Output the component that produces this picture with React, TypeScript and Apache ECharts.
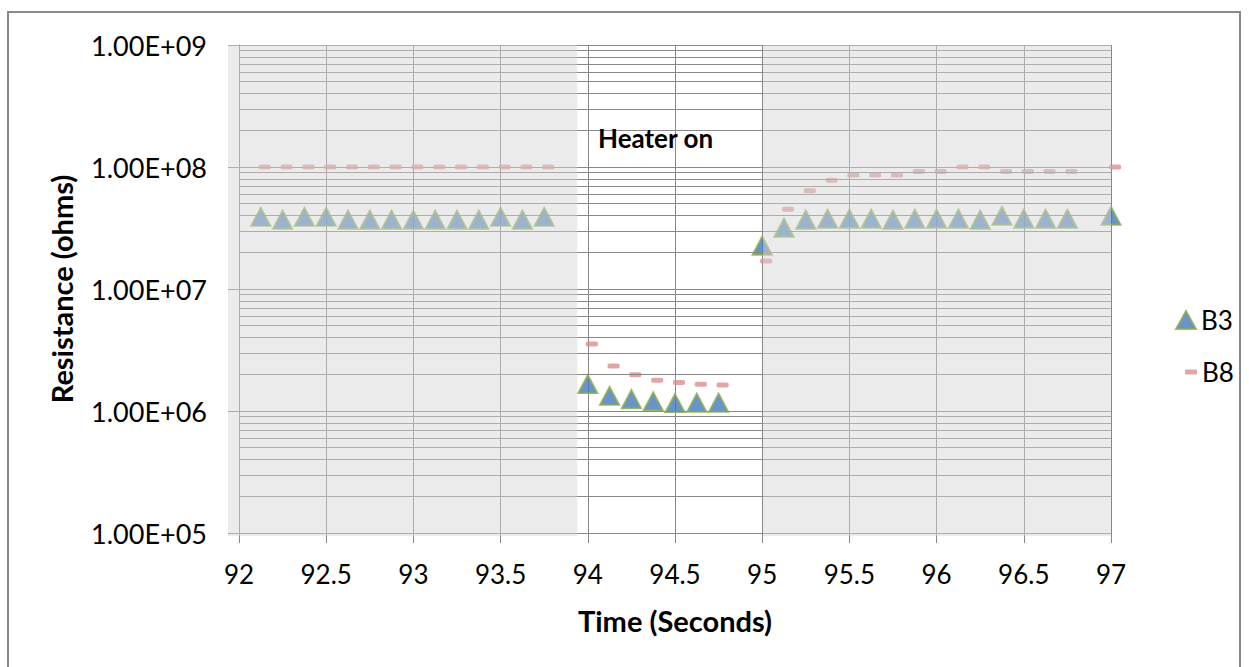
import React, { useEffect, useRef } from "react";
import * as echarts from "echarts";

// ---------- data ----------
const times = [
  92.125, 92.25, 92.375, 92.5, 92.625, 92.75, 92.875, 93, 93.125, 93.25, 93.375, 93.5, 93.625, 93.75,
  94, 94.125, 94.25, 94.375, 94.5, 94.625, 94.75,
  95, 95.125, 95.25, 95.375, 95.5, 95.625, 95.75, 95.875, 96, 96.125, 96.25, 96.375, 96.5, 96.625, 96.75, 97,
];
const b3 = [
  3.9e7, 3.7e7, 3.9e7, 3.9e7, 3.7e7, 3.7e7, 3.7e7, 3.7e7, 3.7e7, 3.7e7, 3.7e7, 3.9e7, 3.7e7, 3.9e7,
  1.66e6, 1.33e6, 1.25e6, 1.2e6, 1.16e6, 1.17e6, 1.17e6,
  2.26e7, 3.18e7, 3.7e7, 3.77e7, 3.77e7, 3.77e7, 3.7e7, 3.77e7, 3.77e7, 3.77e7, 3.7e7, 3.98e7, 3.77e7, 3.77e7, 3.77e7, 3.98e7,
];
const b8 = [
  1e8, 1e8, 1e8, 1e8, 1e8, 1e8, 1e8, 1e8, 1e8, 1e8, 1e8, 1e8, 1e8, 1e8,
  3.54e6, 2.34e6, 1.98e6, 1.79e6, 1.71e6, 1.66e6, 1.63e6,
  1.7e7, 4.5e7, 6.4e7, 7.8e7, 8.6e7, 8.6e7, 8.6e7, 9.2e7, 9.2e7, 1.0e8, 1.0e8, 9.2e7, 9.2e7, 9.2e7, 9.2e7, 1.0e8,
];
const seriesNames = ["B3", "B8"];
const xMin = 92;
const xMax = 97;
const xInterval = 0.5;
const yMin = 1e5;
const yMax = 1e9;
const decades = [1e5, 1e6, 1e7, 1e8];
const minorMultipliers = [2, 3, 4, 5, 6, 7, 8, 9];
const shadeLeft = [91.937, 93.94];
const shadeRight = [95.005, 97];
const annotationText = "Heater on";
const xName = "Time (Seconds)";
const yName = "Resistance (ohms)";

const FONT = "Lato, 'Open Sans', sans-serif";
const GRID_COLOR = "#888888";

function fmtExp(v: number): string {
  const e = Math.round(Math.log10(v));
  const m = v / Math.pow(10, e);
  return m.toFixed(2) + "E+" + String(e).padStart(2, "0");
}

export default function App() {
  const ref = useRef<HTMLDivElement>(null);

  useEffect(() => {
    document.body.style.margin = "0";
    if (!ref.current) return;
    const chart = echarts.init(ref.current, null, { renderer: "svg" });

    const minorLines: any[] = [];
    decades.forEach((d) => minorMultipliers.forEach((m) => minorLines.push({ yAxis: m * d })));

    const option: any = {
      animation: false,
      backgroundColor: "#ffffff",
      grid: { left: 239, right: 138, top: 45, bottom: 134, containLabel: false },
      xAxis: {
        type: "value",
        min: xMin,
        max: xMax,
        interval: xInterval,
        z: 2,
        name: xName,
        nameLocation: "middle",
        nameGap: 73,
        nameTextStyle: { fontFamily: FONT, fontSize: 29, fontWeight: "bold", color: "#000" },
        axisLine: { show: true, lineStyle: { color: GRID_COLOR, width: 1 } },
        axisTick: { show: true, inside: false, length: 10, lineStyle: { color: GRID_COLOR } },
        axisLabel: {
          fontFamily: FONT,
          fontSize: 26,
          color: "#000",
          margin: 28,
          formatter: (v: number) => String(v),
        },
        splitLine: { show: true, lineStyle: { color: GRID_COLOR, width: 1 } },
      },
      yAxis: {
        type: "log",
        logBase: 10,
        min: yMin,
        max: yMax,
        z: 0,
        name: yName,
        nameLocation: "middle",
        nameGap: 163,
        nameTextStyle: { fontFamily: FONT, fontSize: 29, fontWeight: "bold", color: "#000" },
        axisLine: { show: true, lineStyle: { color: GRID_COLOR, width: 1 } },
        axisTick: { show: true, inside: false, length: 11, lineStyle: { color: GRID_COLOR } },
        axisLabel: {
          fontFamily: FONT,
          fontSize: 27,
          color: "#000",
          margin: 32,
          formatter: (v: number) => fmtExp(v),
        },
        splitLine: { show: true, lineStyle: { color: GRID_COLOR, width: 1 } },
      },
      legend: [
        {
          data: [{ name: seriesNames[0], icon: "triangle" }],
          left: 1170,
          top: 302,
          itemWidth: 20,
          itemHeight: 18,
          itemGap: 6,
          textStyle: { fontFamily: FONT, fontSize: 26, color: "#000" },
        },
        {
          data: [{ name: seriesNames[1], icon: "roundRect" }],
          left: 1180,
          top: 354,
          itemWidth: 12,
          itemHeight: 5,
          itemGap: 6,
          textStyle: { fontFamily: FONT, fontSize: 26, color: "#000" },
        },
      ],
      series: [
        {
          name: "grid-minor",
          type: "scatter",
          z: 0,
          silent: true,
          symbolSize: 0,
          data: [[xMin, yMax]],
          markLine: {
            silent: true,
            animation: false,
            symbol: ["none", "none"],
            label: { show: false },
            lineStyle: { color: GRID_COLOR, width: 1, type: "solid" },
            emphasis: { disabled: true },
            data: minorLines,
          },
        },
        {
          name: seriesNames[1],
          type: "scatter",
          z: 3,
          symbol: "roundRect",
          symbolSize: [12, 5],
          symbolOffset: [4, 0],
          itemStyle: { color: "#d98e8c" },
          data: times.map((t, i) => [t, b8[i]]),
        },
        {
          name: seriesNames[0],
          type: "scatter",
          z: 4,
          symbol: "triangle",
          symbolSize: [19, 18],
          itemStyle: { color: "#4379bd", borderColor: "#88ad4c", borderWidth: 2 },
          data: times.map((t, i) => [t, b3[i]]),
        },
      ],
    };
    chart.setOption(option);

    const p = (x: number, y: number) =>
      chart.convertToPixel({ xAxisIndex: 0, yAxisIndex: 0 }, [x, y]) as number[];
    const top = p(xMin, yMax)[1];
    const bottom = p(xMin, yMin)[1] + 3;
    const l0 = p(xMin, yMax)[0] - 11;
    const l1 = p(shadeLeft[1], yMax)[0];
    const r0 = p(shadeRight[0], yMax)[0];
    const r1 = p(shadeRight[1], yMax)[0];
    const hb0 = p(shadeLeft[1], yMax)[0];

    chart.setOption({
      graphic: [
        {
          type: "rect",
          z: 1,
          silent: true,
          shape: { x: hb0, y: 110, width: 191, height: 48 },
          style: { fill: "#ffffff", opacity: 0.92 },
        },
        {
          type: "text",
          z: 20,
          silent: true,
          x: 598,
          y: 138,
          style: {
            text: annotationText,
            fontFamily: FONT,
            fontSize: 26,
            fontWeight: "bold",
            fill: "#000",
            verticalAlign: "middle",
          },
        },
        {
          type: "rect",
          z: 10,
          silent: true,
          shape: { x: l0, y: top, width: l1 - l0, height: bottom - top },
          style: { fill: "#d5d5d5", opacity: 0.48 },
        },
        {
          type: "rect",
          z: 10,
          silent: true,
          shape: { x: r0, y: top, width: r1 - r0, height: bottom - top },
          style: { fill: "#d5d5d5", opacity: 0.48 },
        },
        {
          type: "rect",
          z: 30,
          silent: true,
          shape: { x: 8, y: 12, width: 1232, height: 700 },
          style: { fill: "none", stroke: "#8a8a8a", lineWidth: 2 },
        },
      ],
    });

    return () => chart.dispose();
  }, []);

  return <div ref={ref} style={{ width: 1249, height: 667 }} />;
}
